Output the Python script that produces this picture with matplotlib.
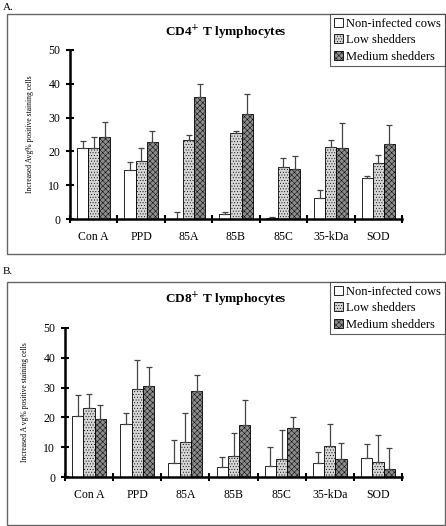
import numpy as np
import matplotlib
matplotlib.use("Agg")
import matplotlib.pyplot as plt
from matplotlib.patches import Rectangle

plt.rcParams['font.family'] = ['Liberation Serif', 'DejaVu Serif']
plt.rcParams['hatch.linewidth'] = 0.35

antigens = ['Con A', 'PPD', '85A', '85B', '85C', '35-kDa', 'SOD']
groups = ['Non-infected cows', 'Low shedders', 'Medium shedders']

# CD4+ panel: means and upper error
cd4_non = [21.1, 14.5, 0.1, 1.4, 0.3, 6.1, 12.0]
cd4_non_err = [2.0, 2.4, 1.9, 0.6, 0.2, 2.5, 0.6]
cd4_low = [20.9, 17.3, 23.3, 25.3, 15.3, 21.4, 16.5]
cd4_low_err = [3.4, 3.8, 1.5, 0.6, 2.7, 1.9, 2.3]
cd4_med = [24.2, 22.7, 36.0, 31.0, 14.8, 20.9, 22.3]
cd4_med_err = [4.4, 3.2, 3.8, 5.9, 3.9, 7.6, 5.5]

# CD8+ panel
cd8_non = [20.5, 17.7, 4.7, 3.5, 3.7, 4.6, 6.5]
cd8_non_err = [7.0, 3.7, 7.7, 3.2, 6.3, 3.7, 4.7]
cd8_low = [23.1, 29.5, 11.7, 7.1, 6.0, 10.3, 5.1]
cd8_low_err = [4.7, 9.9, 9.7, 7.6, 9.7, 7.6, 8.9]
cd8_med = [19.4, 30.5, 28.7, 17.6, 16.6, 6.0, 2.7]
cd8_med_err = [4.9, 6.3, 5.5, 8.2, 3.5, 5.4, 7.0]

W, H = 446, 526
fig = plt.figure(figsize=(W / 100, H / 100), dpi=100)


def fx(px):
    return px / W


def fy(py):
    return 1 - py / H


styles = [dict(facecolor='white', hatch=None),
          dict(facecolor='#d6d6d6', hatch='......'),
          dict(facecolor='#8c8c8c', hatch='xxxxxx')]


def panel(rect, frame, letter, letter_y, title, title_y, ylabel, series, errs):
    # outer frame
    fig.patches.append(Rectangle((fx(frame[0]), fy(frame[3])),
                                 fx(frame[2] - frame[0]), (frame[3] - frame[1]) / H,
                                 transform=fig.transFigure, fill=False,
                                 edgecolor='#666666', lw=1.0))
    fig.text(fx(3), fy(letter_y), letter, fontsize=8, va='center', ha='left')
    fig.text(fx(226), fy(title_y), title, fontsize=9.5, fontweight='bold',
             ha='center', va='center')

    ax = fig.add_axes([fx(rect[0]), fy(rect[3]), fx(rect[2] - rect[0]),
                       (rect[3] - rect[1]) / H])
    x = np.arange(len(antigens)) + 0.5
    bw = 0.235
    handles = []
    for k, (vals, er) in enumerate(zip(series, errs)):
        pos = x + (k - 1) * bw
        b = ax.bar(pos, vals, width=bw, edgecolor='black', linewidth=0.6,
                   label=groups[k], **styles[k])
        handles.append(b)
        ax.errorbar(pos, vals, yerr=[np.zeros(len(vals)), er], fmt='none',
                    ecolor='#444444', elinewidth=0.9, capsize=2.5, capthick=0.9)
    ax.set_xlim(0, 7)
    ax.set_ylim(0, 50)
    ax.set_yticks([0, 10, 20, 30, 40, 50])
    ax.set_xticks(range(8))
    ax.set_xticklabels([])
    ax.set_xticks(x, minor=True)
    ax.set_xticklabels(antigens, minor=True)
    ax.tick_params(axis='x', which='major', direction='inout', length=6, width=1.5)
    ax.tick_params(axis='x', which='minor', length=0, pad=9, labelsize=8.5)
    ax.tick_params(axis='y', direction='inout', length=6, width=1.5, labelsize=8.5, pad=4)
    for s in ['top', 'right']:
        ax.spines[s].set_visible(False)
    for s in ['left', 'bottom']:
        ax.spines[s].set_linewidth(1.8)
    ax.set_ylabel(ylabel, fontsize=5.5, labelpad=10)
    ax.patch.set_alpha(0)

    leg = fig.legend(handles=handles, labels=groups, loc='upper right',
                     bbox_to_anchor=(fx(445), fy(frame[1])), fontsize=9,
                     frameon=True, fancybox=False, edgecolor='#333333',
                     handlelength=0.7, handleheight=0.7, handletextpad=0.3,
                     borderpad=0.3, labelspacing=0.35, borderaxespad=0)
    leg.get_frame().set_linewidth(0.8)
    return ax


panel((70, 50, 402, 219), (7, 14, 445, 254), 'A.', 8, 'CD4$^{+}$ T lymphocytes', 33,
      'Increased Avg% positive staining cells',
      [cd4_non, cd4_low, cd4_med], [cd4_non_err, cd4_low_err, cd4_med_err])

panel((65, 328, 402, 477), (7, 282, 445, 525), 'B.', 271, 'CD8$^{+}$ T lymphocytes', 300,
      'Increased A vg% positive staining cells',
      [cd8_non, cd8_low, cd8_med], [cd8_non_err, cd8_low_err, cd8_med_err])

fig.savefig('out.png', dpi=100)
